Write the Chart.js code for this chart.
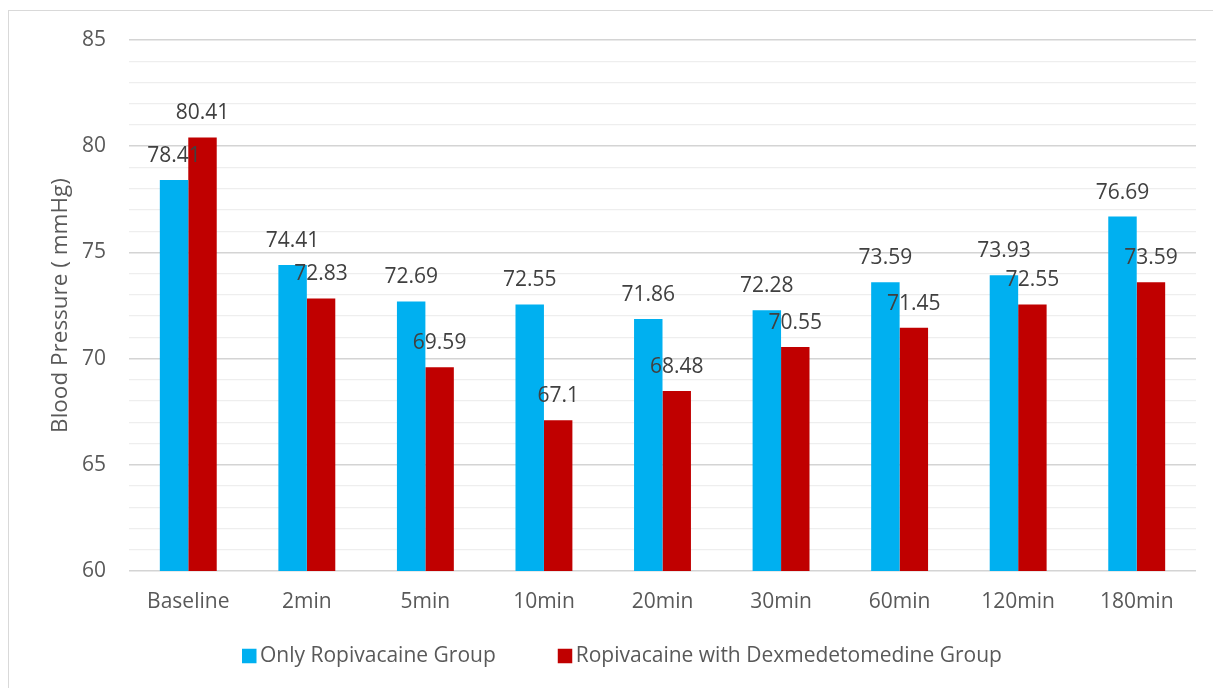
<!DOCTYPE html>
<html>
<head>
<meta charset="utf-8">
<script src="https://cdn.jsdelivr.net/npm/chart.js@4"></script>
<style>
  html, body { margin: 0; padding: 0; background: #ffffff; }
  #wrap { position: relative; width: 1213px; height: 688px; overflow: hidden; }
  #frame { position: absolute; left: 8px; top: 10px; width: 1230px; height: 720px;
           border: 1.5px solid #d9d9d9; pointer-events: none; box-sizing: border-box; }
  canvas { position: absolute; left: 0; top: 0; }
</style>
</head>
<body>
<div id="wrap">
  <canvas id="chart" width="1213" height="688"></canvas>
  <div id="frame"></div>
</div>
<script>
const categories = ['Baseline', '2min', '5min', '10min', '20min', '30min', '60min', '120min', '180min'];
const ropivacaineOnly = [78.41, 74.41, 72.69, 72.55, 71.86, 72.28, 73.59, 73.93, 76.69];
const ropivacaineDex = [80.41, 72.83, 69.59, 67.1, 68.48, 70.55, 71.45, 72.55, 73.59];
const seriesNames = ['Only Ropivacaine Group', 'Ropivacaine with Dexmedetomedine Group'];
const yMin = 60, yMax = 85, yMajorStep = 5;

const FONT = "'Open Sans', 'Noto Sans', sans-serif";

// Value labels above each bar
const barValueLabels = {
  id: 'barValueLabels',
  afterDatasetsDraw(chart) {
    const ctx = chart.ctx;
    ctx.save();
    ctx.font = '21px ' + FONT;
    ctx.fillStyle = '#404040';
    ctx.textAlign = 'center';
    ctx.textBaseline = 'alphabetic';
    chart.data.datasets.forEach((ds, di) => {
      const meta = chart.getDatasetMeta(di);
      meta.data.forEach((bar, i) => {
        ctx.fillText(String(ds.data[i]), bar.x, bar.y - 18);
      });
    });
    ctx.restore();
  }
};

// Legend row under the axis: square swatch followed by the series name
const seriesLegend = {
  id: 'seriesLegend',
  afterDraw(chart, args, opts) {
    const ctx = chart.ctx;
    ctx.save();
    ctx.font = opts.fontSize + 'px ' + FONT;
    ctx.textBaseline = 'middle';
    ctx.textAlign = 'left';
    let x = opts.x;
    chart.data.datasets.forEach((ds) => {
      ctx.fillStyle = ds.backgroundColor;
      ctx.fillRect(x, opts.y - opts.box / 2, opts.box, opts.box);
      x += opts.box + opts.textGap;
      ctx.fillStyle = opts.color;
      ctx.fillText(ds.label, x, opts.y);
      x += ctx.measureText(ds.label).width + opts.itemGap;
    });
    ctx.restore();
  }
};

new Chart(document.getElementById('chart'), {
  type: 'bar',
  data: {
    labels: categories,
    datasets: [
      { label: seriesNames[0], data: ropivacaineOnly, backgroundColor: '#00B0F0' },
      { label: seriesNames[1], data: ropivacaineDex, backgroundColor: '#C00000' }
    ]
  },
  options: {
    responsive: false,
    animation: false,
    categoryPercentage: 0.48,
    barPercentage: 1.0,
    layout: { padding: { left: 8, right: 17, top: 40, bottom: 57 } },
    plugins: {
      legend: { display: false },
      tooltip: { enabled: false },
      seriesLegend: { x: 242, y: 656, box: 14.5, textGap: 3.5, itemGap: 62, fontSize: 21, color: '#595959' }
    },
    scales: {
      x: {
        grid: { display: false, drawTicks: false },
        border: { display: false },
        ticks: { color: '#595959', padding: 18, font: { family: FONT, size: 21 } },
        afterFit(scale) { scale.height = 60; }
      },
      y: {
        min: yMin,
        max: yMax,
        border: { display: false },
        grid: {
          drawTicks: false,
          color: (c) => (c.tick && c.tick.value % yMajorStep === 0) ? '#d4d4d4' : '#eeeeee',
          lineWidth: (c) => (c.tick && c.tick.value % yMajorStep === 0) ? 1.6 : 1.3
        },
        ticks: {
          stepSize: 1,
          autoSkip: false,
          padding: 23,
          color: '#595959',
          font: { family: FONT, size: 21 },
          callback: (v) => (v % yMajorStep === 0 ? v : '')
        },
        title: {
          display: true,
          text: 'Blood Pressure ( mmHg)',
          color: '#595959',
          font: { family: FONT, size: 22.5 },
          padding: { top: 39.5, bottom: 0 }
        },
        afterFit(scale) { scale.width = 121; }
      }
    }
  },
  plugins: [barValueLabels, seriesLegend]
});
</script>
</body>
</html>
